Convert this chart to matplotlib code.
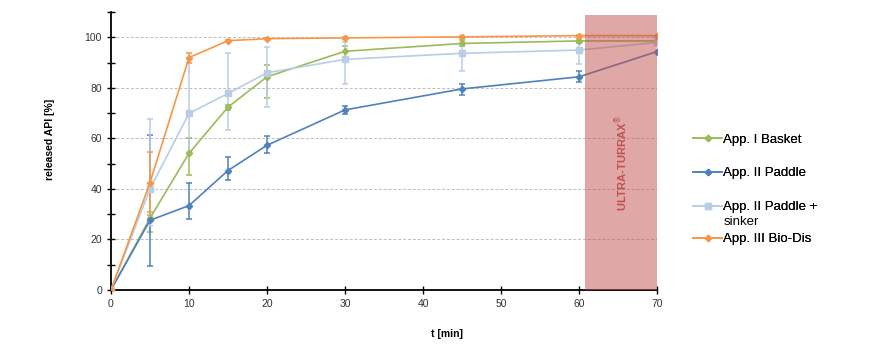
import numpy as np
import matplotlib
matplotlib.use("Agg")
import matplotlib.pyplot as plt

plt.rcParams['font.family'] = ['Liberation Sans', 'DejaVu Sans']

# ===============================
# DATA
# ===============================

t_min = [0, 5, 10, 15, 20, 30, 45, 60, 70]

basket = [0, 28.4, 54.1, 72.4, 84.4, 94.5, 97.6, 98.6, 98.6]
basket_up = [0, 2.5, 6.0, 1.0, 4.5, 2.2, 1.2, 0.8, 0]
basket_lo = [0, 5.5, 8.5, 1.0, 8.4, 2.2, 1.2, 0.8, 0]

paddle = [0, 27.6, 33.4, 47.3, 57.3, 71.3, 79.6, 84.4, 94.4]
paddle_up = [0, 33.6, 9.1, 5.5, 3.5, 1.7, 2.0, 2.1, 0]
paddle_lo = [0, 18.0, 5.2, 3.9, 3.2, 1.8, 2.3, 2.1, 0]

sinker = [0, 40.0, 69.9, 77.8, 86.0, 91.3, 93.7, 95.0, 98.0]
sinker_up = [0, 27.8, 22.0, 16.2, 10.3, 7.0, 5.5, 3.5, 0]
sinker_lo = [0, 14.7, 15.2, 14.5, 13.6, 9.6, 7.0, 5.7, 0]

biodis = [0, 42.5, 92.0, 98.7, 99.5, 99.8, 100.2, 100.7, 100.7]
biodis_up = [0, 12.2, 2.0, 0.3, 0.3, 0.3, 0.3, 0.3, 0]
biodis_lo = [0, 12.8, 2.0, 0.3, 0.3, 0.3, 0.3, 0.3, 0]

series_names = ["App. I Basket", "App. II Paddle", "App. II Paddle +", "App. III Bio-Dis"]
series_colors = ["#9bbb59", "#4f81bd", "#b9cde5", "#f79646"]
series_markers = ["D", "D", "s", "D"]
sinker_second_line = "sinker"

ultra_start = 60.8
ultra_end = 70


# ===============================
# PLOT
# ===============================

fig = plt.figure(figsize=(8.71, 3.57), dpi=100)
ax = fig.add_axes([0.1274, 0.1877, 0.627, 0.7783])

all_vals = [basket, paddle, sinker, biodis]
all_up = [basket_up, paddle_up, sinker_up, biodis_up]
all_lo = [basket_lo, paddle_lo, sinker_lo, biodis_lo]

handles = []
for vals, up, lo, name, col, mk in zip(all_vals, all_up, all_lo,
                                        series_names, series_colors, series_markers):
    ax.errorbar(t_min, vals, yerr=[lo, up], fmt="none", ecolor=col,
                elinewidth=1.1, capsize=2.5, capthick=1.1, zorder=2)
    h, = ax.plot(t_min, vals, color=col, lw=1.2, marker=mk,
                 ms=3.2 if mk == "D" else 3.8, label=name, zorder=3)
    handles.append(h)

# shaded ULTRA-TURRAX region
ax.fill_between([ultra_start, ultra_end], 0, 108.8, color="#c0504d",
                alpha=0.5, lw=0, zorder=4)
ax.text((ultra_start + ultra_end) / 2 + 0.1, 50.5, "ULTRA-TURRAX$^{\\circledR}$",
        rotation=90, ha="center", va="center", color="#c0504d",
        fontsize=8, fontweight="bold", zorder=5)

ax.set_xlim(0, 70)
ax.set_ylim(0, 110)
ax.set_xticks(np.arange(0, 71, 10))
ax.set_yticks(np.arange(0, 101, 20))
ax.set_yticks(np.arange(10, 111, 10), minor=True)

for yv in range(20, 101, 20):
    ax.axhline(yv, color="#bdbdbd", lw=0.7, ls=(0, (3, 2)), zorder=1)

for side in ["top", "right"]:
    ax.spines[side].set_visible(False)
for side in ["left", "bottom"]:
    ax.spines[side].set_linewidth(1.3)

ax.tick_params(axis="both", which="major", direction="inout", length=6,
               width=1.0, labelsize=7.5, labelcolor="#333333")
ax.tick_params(axis="y", which="minor", direction="inout", length=6, width=1.0)

ax.set_xlabel("t [min]", fontsize=7.5, fontweight="bold")
ax.set_ylabel("released API [%]", fontsize=7.5, fontweight="bold")
ax.xaxis.set_label_coords(0.615, -0.142)
ax.yaxis.set_label_coords(-0.102, 0.543)

# legend: one entry per box so the spacing follows the reference
legend_y_px = [140, 173, 207, 239]
fig_h_px = 357
legends = []
for h, name, ypx in zip(handles, series_names, legend_y_px):
    leg = fig.legend(handles=[h], labels=[name], loc="center left",
                     bbox_to_anchor=(693 / 871, 1 - ypx / fig_h_px),
                     frameon=False, fontsize=9.5, handlelength=2.2,
                     handletextpad=0.1, borderpad=0, borderaxespad=0)
    fig.add_artist(leg)
    legends.append(leg)

fig.canvas.draw()
renderer = fig.canvas.get_renderer()
txt_bb = legends[2].get_texts()[0].get_window_extent(renderer)
fig.text(txt_bb.x0 / fig.bbox.width, 1 - 222 / fig_h_px, sinker_second_line,
         ha="left", va="center", fontsize=9.5)

fig.savefig("out.png", dpi=100)
